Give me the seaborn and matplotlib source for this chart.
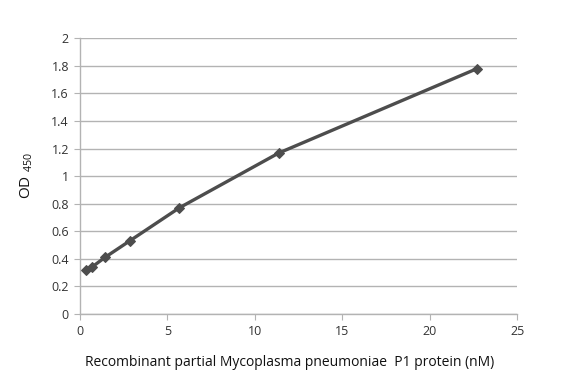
import numpy as np
import pandas as pd
import matplotlib
matplotlib.use("Agg")
import matplotlib.pyplot as plt
import seaborn as sns

# concentration (nM) and OD450
conc = [0.355, 0.71, 1.42, 2.84, 5.68, 11.36, 22.72]
od450 = [0.32, 0.343, 0.41, 0.53, 0.77, 1.167, 1.78]

df = pd.DataFrame({"conc": conc, "od": od450})

sns.set_style("white")
plt.rcParams['font.family'] = ['Open Sans', 'DejaVu Sans']
plt.rcParams['mathtext.fontset'] = 'custom'
plt.rcParams['mathtext.rm'] = 'Open Sans'

fig = plt.figure(figsize=(5.82, 3.82), dpi=100)
ax = fig.add_axes([0.1375, 0.178, 0.751, 0.722])

sns.lineplot(data=df, x="conc", y="od", ax=ax, color="#4d4d4d", linewidth=2.4,
             marker="D", markersize=5.5, markeredgecolor="#4d4d4d", zorder=3)

ax.set_xlim(0, 25)
ax.set_ylim(0, 2)
ax.set_xticks(range(0, 26, 5))
ax.set_yticks(np.arange(0, 2.01, 0.2))
ax.set_yticklabels(["0", "0.2", "0.4", "0.6", "0.8", "1", "1.2", "1.4", "1.6", "1.8", "2"])

ax.yaxis.grid(True, color="#b3b3b3", linewidth=1)
ax.xaxis.grid(False)
for s in ["top", "right"]:
    ax.spines[s].set_visible(False)
for s in ["left", "bottom"]:
    ax.spines[s].set_color("#b3b3b3")
    ax.spines[s].set_linewidth(1)

ax.tick_params(axis="both", labelsize=9, colors="#b3b3b3", labelcolor="#333333",
               length=4, direction="out", left=True, bottom=True, pad=4)

ax.set_xlabel("Recombinant partial Mycoplasma pneumoniae  P1 protein (nM)",
              fontsize=10, color="#111111", labelpad=14)
ax.xaxis.set_label_coords(0.48, -0.15)
ax.set_ylabel("OD $_{\\mathregular{450}}$", fontsize=11, color="#111111", labelpad=12)

fig.savefig("out.png", dpi=100)
